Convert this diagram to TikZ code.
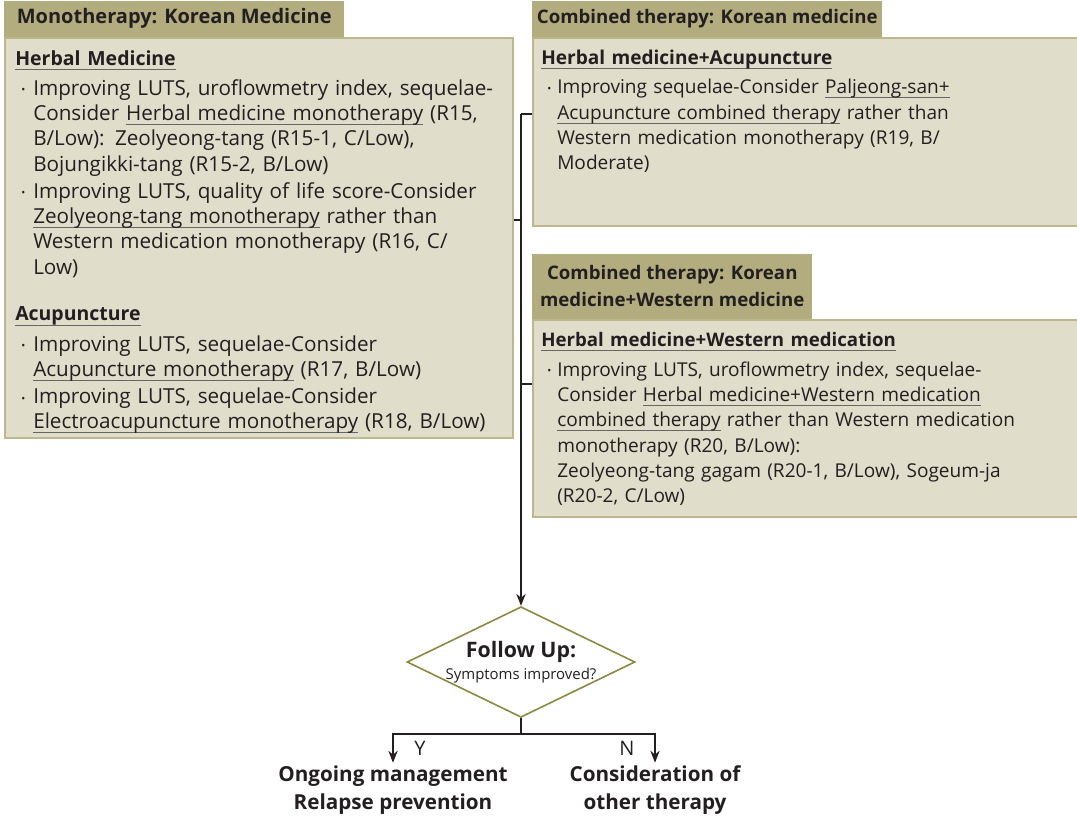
\documentclass[tikz,border=0pt]{standalone}
\usepackage{fontspec}
\setmainfont{Open Sans}
\usetikzlibrary{positioning,shapes.geometric,arrows.meta}

\definecolor{headfill}{HTML}{B2AC7E}
\definecolor{panelfill}{HTML}{E0DDCB}
\definecolor{panelline}{HTML}{BDB78B}
\definecolor{diamline}{HTML}{8C8A42}
\definecolor{ink}{HTML}{231F20}

\newsavebox{\ulbox}
\newlength{\itemind}
\setlength{\itemind}{13.5pt}
\newcommand{\undl}[1]{\sbox{\ulbox}{#1}\rlap{\color{black!60}\rule[-3.4pt]{\wd\ulbox}{0.7pt}}\usebox{\ulbox}}
\newcommand{\bodyfont}{\fontsize{14.3}{19}\selectfont}
\newcommand{\bigbodyfont}{\fontsize{15.5}{19}\selectfont}
\newcommand{\bitem}{\par\vspace{1.2pt}\hangindent=\itemind\hangafter=1\noindent\makebox[\itemind][l]{\hspace{4.5pt}\raisebox{1pt}{\fontsize{8}{8}\selectfont\textbullet}}}
\newcommand{\subhead}[2][4pt]{\noindent\textbf{\undl{#2}}\par\vspace{#1}}

\begin{document}
\begin{tikzpicture}[
    x=0.75pt, y=-0.75pt,
    panel/.style={draw=panelline, fill=panelfill, line width=1.5pt, anchor=north west, inner sep=0pt},
    paneltext/.style={align=left, text width=400pt, inner sep=0pt, font=\bodyfont, text=ink},
    header/.style={fill=headfill, anchor=south west, inner sep=0pt, align=center, text=ink,
        font=\bfseries\fontsize{14}{20}\selectfont},
    decision/.style={diamond, aspect=2.05, draw=diamline, line width=1.2pt, fill=white, minimum width=171pt,
        minimum height=83pt, inner sep=-2.4pt, align=center, text=ink},
    outcome/.style={align=center, inner sep=0pt, text=ink, font=\bfseries\fontsize{15.5}{21}\selectfont},
    yn/.style={inner sep=0pt, text=ink, font=\fontsize{15}{17}\selectfont},
    link/.style={draw=ink, line width=1.1pt},
    arr/.style={link, -{Stealth[length=9pt,width=7pt]}}
]
\useasboundingbox (0,0) rectangle (1077,819);

% Panels
\node[panel, minimum width=381pt, minimum height=300pt] (mono) at (4,37) {};
\node[panel, minimum width=410pt, minimum height=141pt] (combkm) at (532,37) {};
\node[panel, minimum width=410pt, minimum height=147.75pt] (combwm) at (532,319) {};

% Headers
\node[header, font=\bfseries\fontsize{15}{20}\selectfont, minimum width=255pt, minimum height=27pt] (monohead) at (mono.north west) {Monotherapy: Korean Medicine};
\node[header, minimum width=262.5pt, minimum height=27pt] (kmhead) at (combkm.north west) {Combined therapy: Korean medicine};
\node[header, minimum width=210pt, minimum height=48.75pt] (wmhead) at (combwm.north west) {Combined therapy: Korean\\medicine+Western medicine};

% Panel texts
\node[paneltext, font=\bigbodyfont, below right=9.75pt and 8.25pt of mono.north west] (monotxt) {%
\subhead[2.5pt]{\fontsize{14.6}{19}\selectfont Herbal Medicine}
\bitem Improving LUTS, uroflowmetry index, sequelae-\newline Consider \undl{Herbal medicine monotherapy} (R15,\newline B/Low): Zeolyeong-tang (R15-1, C/Low),\newline Bojungikki-tang (R15-2, B/Low)
\bitem Improving LUTS, quality of life score-Consider\newline \undl{Zeolyeong-tang monotherapy} rather than\newline Western medication monotherapy (R16, C/\newline Low)
\par\vspace{16pt}
\subhead[2.5pt]{\fontsize{14.6}{19}\selectfont Acupuncture}
\bitem Improving LUTS, sequelae-Consider\newline \undl{Acupuncture monotherapy} (R17, B/Low)
\bitem Improving LUTS, sequelae-Consider\newline \undl{Electroacupuncture monotherapy} (R18, B/Low)\par};

\node[paneltext, below right=9.75pt and 6.75pt of combkm.north west] (kmtxt) {%
\setlength{\itemind}{12pt}%
\subhead[1.5pt]{Herbal medicine+Acupuncture}
\bitem Improving sequelae-Consider \undl{Paljeong-san+}\newline \undl{Acupuncture combined therapy} rather than\newline Western medication monotherapy (R19, B/\newline Moderate)\par};

\node[paneltext, below right=9.75pt and 6.75pt of combwm.north west] (wmtxt) {%
\setlength{\itemind}{12pt}%
\subhead[2pt]{\fontsize{14}{19}\selectfont Herbal medicine+Western medication}
\bitem Improving LUTS, uroflowmetry index, sequelae-\newline Consider \undl{Herbal medicine+Western medication}\newline \undl{combined therapy} rather than Western medication\newline monotherapy (R20, B/Low):\newline Zeolyeong-tang gagam (R20-1, B/Low), Sogeum-ja\newline (R20-2, C/Low)\par};

% Follow up and outcomes
\node[decision] (followup) at (521,662) {\textbf{\fontsize{16}{19}\selectfont Follow Up:}\\[3pt]{\fontsize{11.2}{14}\selectfont Symptoms improved?}};
\node[outcome] (ongoing) at (393,790) {Ongoing management\\Relapse prevention};
\node[outcome] (other) at (655,790) {Consideration of\\other therapy};
\node[yn] (ylab) at (420,748) {Y};
\node[yn] (nlab) at (627,748) {N};

% Connectors
\coordinate (bus) at (521,114);
\coordinate (split) at (521,734);
\draw[link] (combkm.west |- bus) -- (bus);
\draw[link] (mono.east |- 0,220) -- (bus |- 0,220);
\draw[link] (combwm.west |- 0,384) -- (bus |- 0,384);
\draw[arr] (bus) -- (followup.north);
\draw[link] (followup.south) -- (split);
\draw[arr, shorten >=2pt] (split) -| (ongoing.north);
\draw[arr, shorten >=2pt] (split) -| (other.north);

\end{tikzpicture}
\end{document}
